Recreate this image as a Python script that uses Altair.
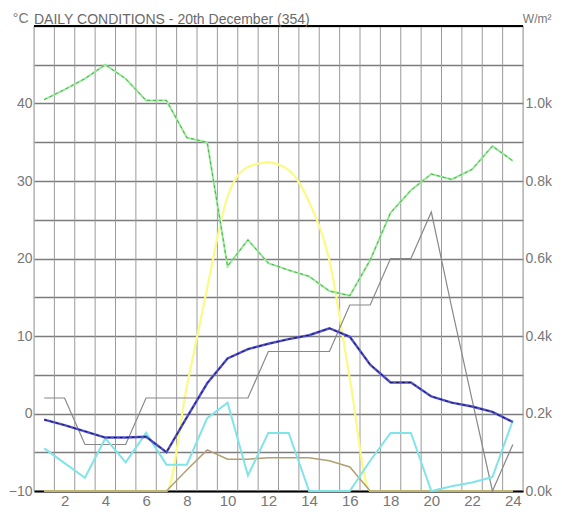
import altair as alt
import pandas as pd

# ---- data ----
hours = list(range(1, 25))
label_hours = [2, 4, 6, 8, 10, 12, 14, 16, 18, 20, 22, 24]

green_series = [40.5, 41.8, 43.2, 45.0, 43.2, 40.4, 40.4, 35.6, 35.0, 19.0, 22.4, 19.4,
                18.5, 17.7, 15.8, 15.2, 19.8, 25.9, 28.8, 30.9, 30.2, 31.5, 34.5, 32.6]
blue_series = [-0.8, -1.5, -2.3, -3.1, -3.1, -3.0, -5.0, -0.5, 3.9, 7.1, 8.3, 9.0,
               9.6, 10.1, 11.0, 9.9, 6.3, 4.0, 4.0, 2.2, 1.4, 0.9, 0.2, -1.1]
gray_series = [2, 2, -4, -4, -4, 2, 2, 2, 2, 2, 2, 8,
               8, 8, 8, 14, 14, 20, 20, 26, 13.7, 1.8, -10, -4]
cyan_series = [-4.5, -6.4, -8.3, -3.2, -6.3, -2.5, -6.6, -6.6, -0.6, 1.4, -8.0, -2.5,
               -2.5, -10, -10, -10, -6.1, -2.5, -2.5, -10, -9.4, -8.9, -8.2, -0.9]
olive_series = [-10, -10, -10, -10, -10, -10, -10, -7.3, -4.7, -5.9, -5.9, -5.7,
                -5.7, -5.7, -6.1, -6.9, -10, -10, -10, -10, -10, -10, -10, -10]
solar_wm2 = [0, 0, 0, 0, 0, 0, 0, 270, 524, 760, 836, 848,
             828, 746, 594, 290, 0, 0, 0, 0, 0, 0, 0, 0]

left_ticks = [-10, -5, 0, 5, 10, 15, 20, 25, 30, 35, 40, 45, 50]
right_ticks = [0, 200, 400, 600, 800, 1000]
y_min, y_max = -10, 50
w_min, w_max = 0, 1200

df = pd.DataFrame({
    "hour": hours,
    "green": green_series,
    "blue": blue_series,
    "gray": gray_series,
    "cyan": cyan_series,
    "olive": olive_series,
    "solar": solar_wm2,
})
edges = pd.DataFrame({"edge": [h - 0.5 for h in hours] + [hours[-1] + 0.5]})
top_df = pd.DataFrame({"top": [y_max]})

FONT = "Liberation Sans"
LABEL_COLOR = "#777777"

x_scale = alt.Scale(domain=[0.5, 24.5], nice=False, zero=False)
x_axis = alt.Axis(values=label_hours, title=None, grid=False, ticks=False,
                  domain=True, domainColor="black", domainWidth=2,
                  labelColor=LABEL_COLOR, labelFont=FONT, labelFontSize=15,
                  labelPadding=2, labelFlush=False, labelOverlap=False)

yl_scale = alt.Scale(domain=[y_min, y_max], nice=False, zero=False)
yl_axis = alt.Axis(values=left_ticks, orient="left", grid=True, gridColor="#7c7c7c",
                   gridWidth=1.5, ticks=False, domain=False,
                   labelExpr="datum.value % 10 == 0 && datum.value < 50 ? datum.label : ''",
                   labelColor=LABEL_COLOR, labelFont=FONT, labelFontSize=14,
                   labelPadding=2, labelOverlap=False,
                   title="°C", titleAngle=0, titleAlign="right", titleBaseline="alphabetic",
                   titleX=-6, titleY=-4, titleFont=FONT, titleFontSize=14,
                   titleFontWeight="normal", titleColor=LABEL_COLOR)

yr_scale = alt.Scale(domain=[w_min, w_max], nice=False, zero=False)
yr_axis = alt.Axis(values=right_ticks, orient="right", grid=False, ticks=False, domain=False,
                   labelExpr="format(datum.value / 1000, '.1f') + 'k'",
                   labelColor=LABEL_COLOR, labelFont=FONT, labelFontSize=14,
                   labelPadding=2, labelOverlap=False,
                   title="W/m²", titleAngle=0, titleAlign="right", titleBaseline="alphabetic",
                   titleX=28, titleY=-4, titleFont=FONT, titleFontSize=12,
                   titleFontWeight="normal", titleColor=LABEL_COLOR)

X = alt.X("hour:Q", scale=x_scale, axis=x_axis)


def yl(field):
    return alt.Y(f"{field}:Q", scale=yl_scale, axis=yl_axis)


base = alt.Chart(df)

vgrid = alt.Chart(edges).mark_rule(color="#9a9a9a", strokeWidth=1).encode(
    x=alt.X("edge:Q", scale=x_scale, axis=x_axis))

yellow = base.mark_line(color="#fafa84", strokeWidth=2.2, interpolate="monotone").encode(
    x=X, y=alt.Y("solar:Q", scale=yr_scale, axis=yr_axis))

right = alt.layer(vgrid, yellow)

olive = base.mark_line(color="#b0a070", strokeWidth=1.5).encode(x=X, y=yl("olive"))
gray = base.mark_line(color="#888888", strokeWidth=1.2).encode(x=X, y=yl("gray"))
cyan = base.mark_line(color="#80e4e8", strokeWidth=2).encode(x=X, y=yl("cyan"))
green_base = base.mark_line(color="#98ea98", strokeWidth=2).encode(x=X, y=yl("green"))
green_dash = base.mark_line(color="#4caf4c", strokeWidth=1, strokeDash=[3, 3]).encode(x=X, y=yl("green"))
blue_base = base.mark_line(color="#5050c8", strokeWidth=2.4).encode(x=X, y=yl("blue"))
blue_dash = base.mark_line(color="#15155a", strokeWidth=1, strokeDash=[3, 3]).encode(x=X, y=yl("blue"))
top_rule = alt.Chart(top_df).mark_rule(color="black", strokeWidth=2).encode(y=yl("top"))

left = alt.layer(olive, gray, cyan, green_base, green_dash, blue_base, blue_dash, top_rule)

chart = alt.layer(right, left).resolve_scale(y="independent").properties(
    width=489, height=465,
    autosize=alt.AutoSizeParams(type="none"),
    padding={"left": 26, "top": 18, "right": 31, "bottom": 20},
    title=alt.Title("DAILY CONDITIONS - 20th December (354)", anchor="start",
                    frame="group", font=FONT, fontSize=14, fontWeight="normal",
                    color="#6a6a6a", offset=0, dy=27, baseline="alphabetic"),
).configure_view(stroke=None).configure(background="white")

chart.save("out.html", embed_options={"renderer": "svg", "actions": False})
